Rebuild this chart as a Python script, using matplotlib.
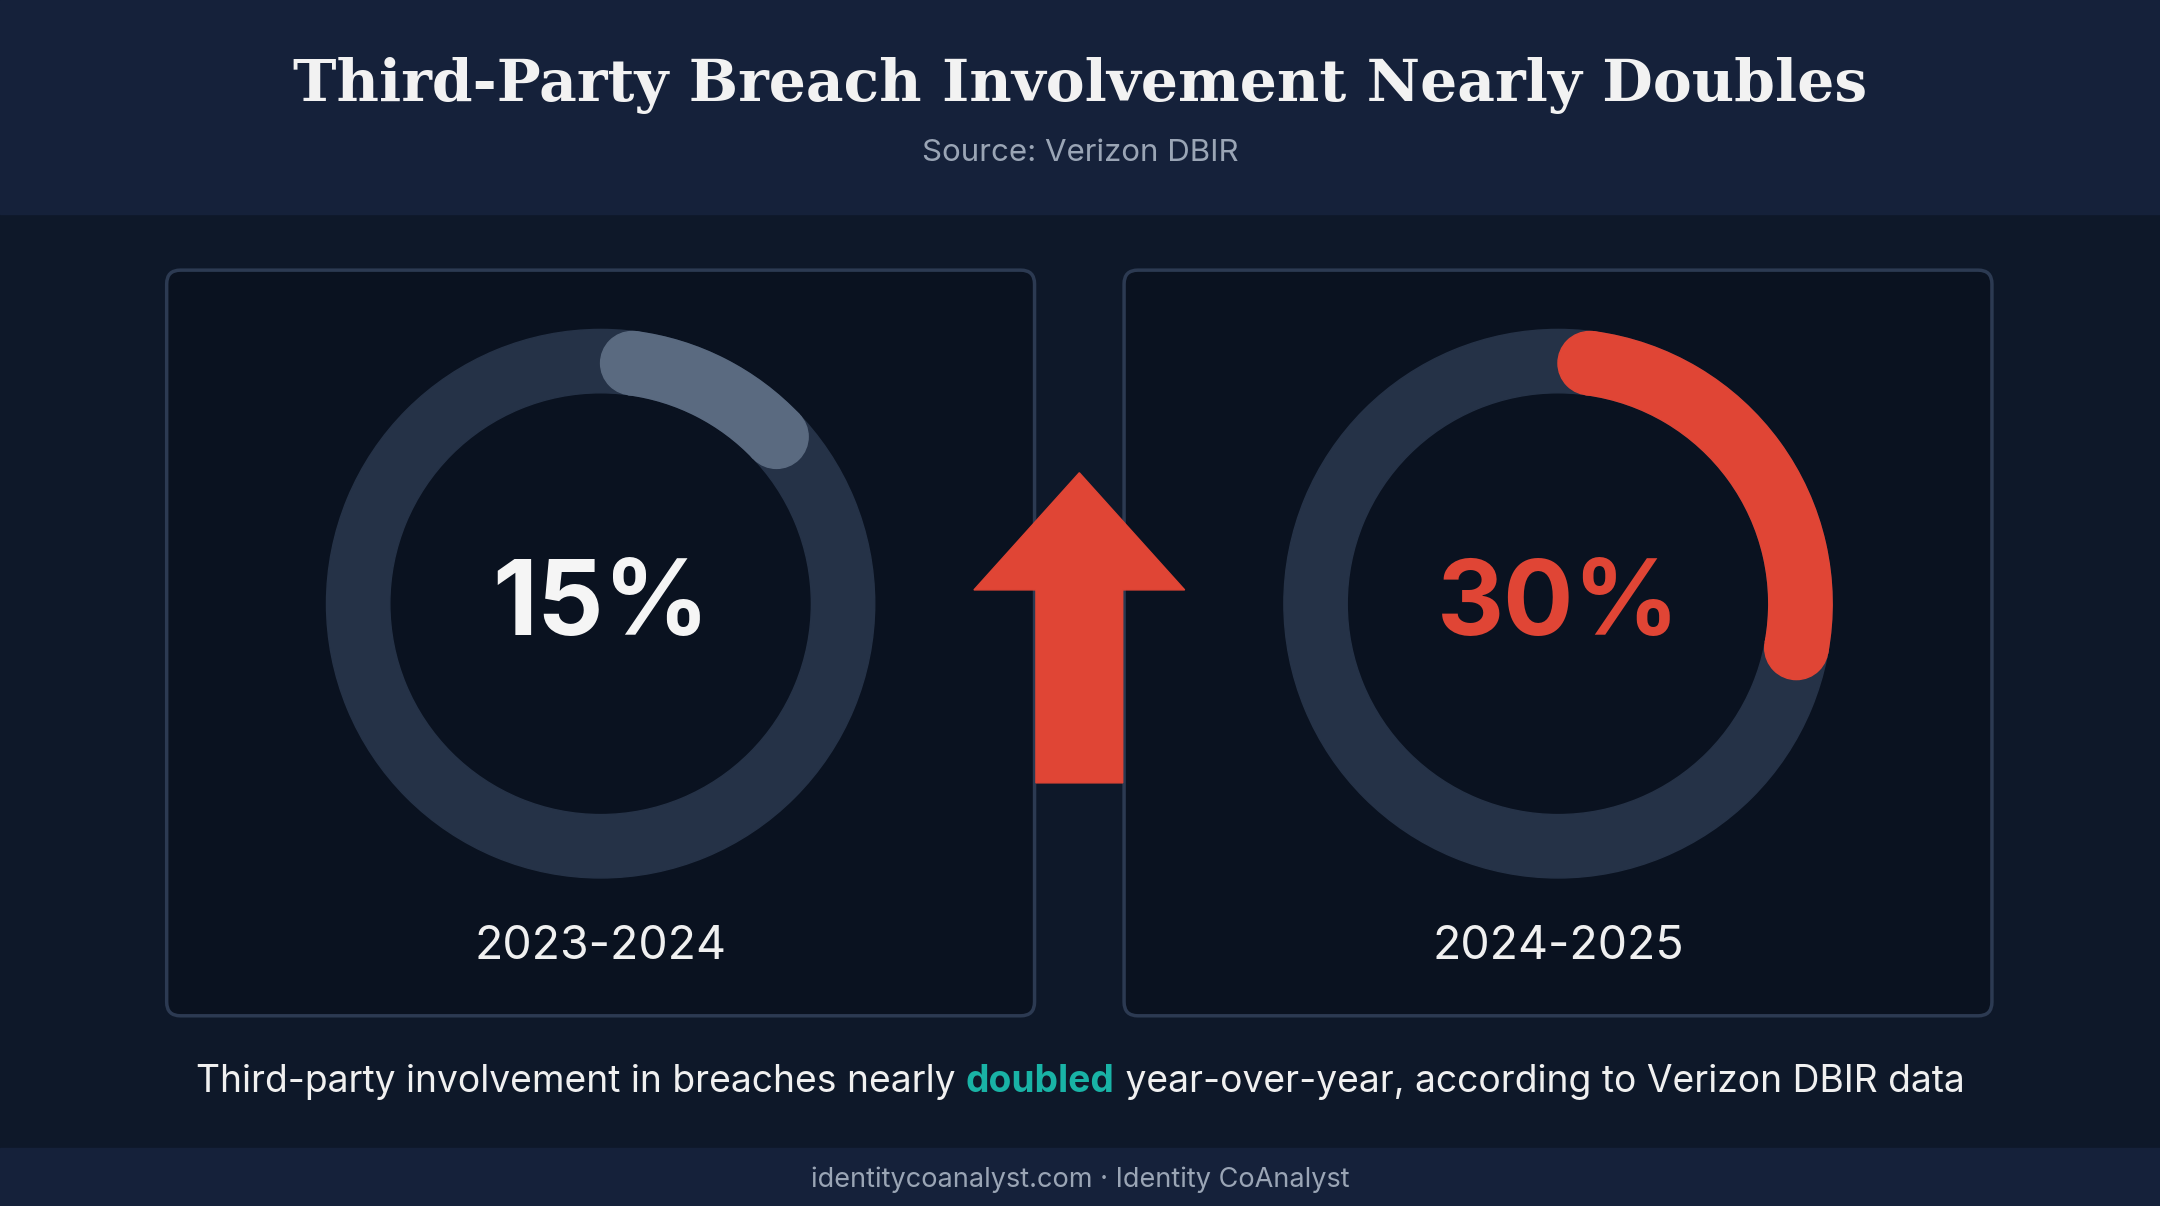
import matplotlib
matplotlib.use("Agg")
import matplotlib.pyplot as plt
from matplotlib.patches import Rectangle, FancyBboxPatch, Wedge, Polygon, Circle
import numpy as np

title = "Third-Party Breach Involvement Nearly Doubles"
subtitle = "Source: Verizon DBIR"
periods = ["2023-2024", "2024-2025"]
values = [15, 30]
caption_parts = ["Third-party involvement in breaches nearly ", "doubled", " year-over-year, according to Verizon DBIR data"]
footer = "identitycoanalyst.com · Identity CoAnalyst"

W, H = 1568, 875
fig = plt.figure(figsize=(21.6, 12.06), dpi=100)
ax = fig.add_axes([0, 0, 1, 1])
ax.set_xlim(0, W); ax.set_ylim(H, 0); ax.axis("off")
fig.patch.set_facecolor("#0e1829")
F = "Inter"
ax.add_patch(Rectangle((0, 0), W, 155, color="#15213a", zorder=0))
ax.add_patch(Rectangle((0, 833), W, 42, color="#15213a", zorder=0))
ax.text(W/2, 62, title, ha="center", va="center", fontsize=42, fontweight="bold", family="DejaVu Serif", color="#f2f2f2")
ax.text(W/2, 111, subtitle, ha="center", va="center", fontsize=22.5, family=F, color="#9aa5b5")

panels_x = [121, 816]
fg_colors = ["#5a6a80", "#e04535"]
txt_colors = ["#f5f5f5", "#e04535"]
for i, px in enumerate(panels_x):
    ax.add_patch(FancyBboxPatch((px, 196), 630, 541, boxstyle="round,pad=0,rounding_size=10",
                                fc="#0a1220", ec="#2c3a52", lw=2.5, zorder=1))
    cx, cy = px + 315, 438
    r_out, wdt = 199, 46
    ax.add_patch(Wedge((cx, cy), r_out, 0, 360, width=wdt, color="#253247", zorder=2))
    cap = 7.5
    a0 = -90 + cap
    a1 = -90 + 360 * values[i] / 100 - cap
    ax.add_patch(Wedge((cx, cy), r_out, a0, a1, width=wdt, color=fg_colors[i], zorder=3))
    rm = r_out - wdt / 2
    for a in (a0, a1):
        ax.add_patch(Circle((cx + rm*np.cos(np.radians(a)), cy + rm*np.sin(np.radians(a))), wdt/2,
                            color=fg_colors[i], zorder=3))
    ax.text(cx, cy + 3, f"{values[i]}%", ha="center", va="center", fontsize=75, fontweight="bold",
            family=F, color=txt_colors[i], zorder=4)
    ax.text(cx, 687, periods[i], ha="center", va="center", fontsize=33.5, family=F, color="#f0f0f0", zorder=4)

ax.add_patch(Polygon([(752, 568), (752, 428), (707, 428), (783.5, 343), (860, 428), (815, 428), (815, 568)],
                     closed=True, color="#e04535", zorder=5))

fig.canvas.draw()
r = fig.canvas.get_renderer()
styles = [dict(color="#f0f0f0"), dict(color="#19b3a6", fontweight="bold"), dict(color="#f0f0f0")]
tmp = [ax.text(0, 785, s, fontsize=26.8, family=F, va="center", **st) for s, st in zip(caption_parts, styles)]
widths = [t.get_window_extent(r).width * W / fig.bbox.width for t in tmp]
x = W/2 - sum(widths)/2
for t, w in zip(tmp, widths):
    t.set_x(x); x += w

ax.text(W/2, 856, footer, ha="center", va="center", fontsize=19.5, family=F, color="#9aa5b5")
fig.savefig("out.png", dpi=100, facecolor=fig.get_facecolor())
